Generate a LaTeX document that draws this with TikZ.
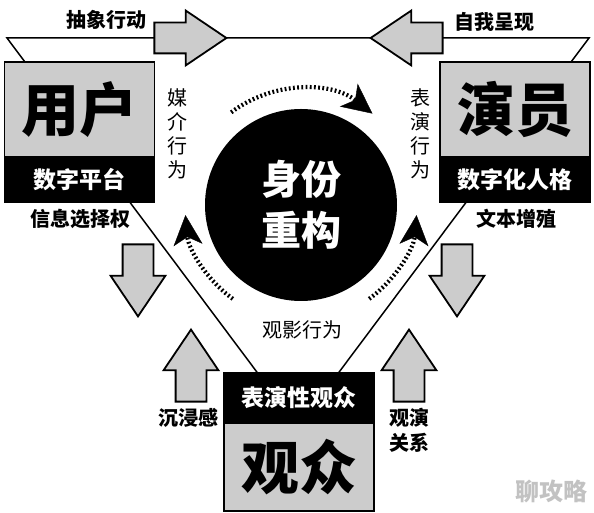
\documentclass[tikz,border=0pt]{standalone}
\usepackage{fontspec}
\usepackage{xcolor}
\usepackage{tikz}
\usetikzlibrary{positioning,shapes.arrows,arrows.meta}
\newfontfamily\cjk{Noto Sans CJK SC}
\definecolor{boxgray}{gray}{0.8}
\definecolor{markgray}{gray}{0.76}
\tikzset{
  triline/.style  = {line width=1.5pt},
  rolename/.style = {shape=rectangle, draw, line width=1.8pt, fill=boxgray,
                     minimum width=150pt, minimum height=95pt,
                     inner sep=0pt, outer sep=0pt,
                     font=\cjk\bfseries\fontsize{58}{60}\selectfont},
  roletag/.style  = {shape=rectangle, draw, line width=1.8pt, fill=black,
                     text=white, minimum width=150pt, minimum height=45pt,
                     inner sep=0pt, outer sep=0pt,
                     font=\cjk\bfseries\fontsize{23}{26}\selectfont},
  core/.style     = {circle, fill=black, text=white, minimum size=192pt,
                     inner sep=0pt, align=center,
                     font=\cjk\bfseries\fontsize{40}{51}\selectfont},
  keyword/.style  = {inner sep=0pt, align=center,
                     font=\cjk\bfseries\fontsize{20}{25}\selectfont},
  act/.style      = {inner sep=0pt, align=center,
                     font=\cjk\fontsize{20}{24}\selectfont},
  bigarrow/.style = {single arrow, draw, line width=1.8pt, fill=boxgray,
                     inner xsep=0pt, inner ysep=14.5pt,
                     single arrow head extend=12pt,
                     single arrow tip angle=68,
                     minimum height=72pt, anchor=tip},
  loopline/.style = {line width=4.2pt, dash pattern=on 1.8pt off 2.4pt,
                     -{Stealth[length=30pt, width=29pt, inset=8pt, line width=0.4pt]}}
}
\begin{document}
\begin{tikzpicture}
  [
    x = 1pt,
    y = 1pt
  ]
  \useasboundingbox (0,0) rectangle (594,513);
  \coordinate (tl)   at (7,475);
  \coordinate (tr)   at (589,475);
  \coordinate (apex) at (298,86);
  \draw [triline] (tl) -- (tr) -- (apex) -- cycle;

  \node [rolename] (user)  at (79.5,403.5) {用户};
  \node [roletag, below=0pt of user]  (platform) {数字平台};
  \node [rolename] (actor) at (515,403.5) {演员};
  \node [roletag, below=0pt of actor] (persona)  {数字化人格};
  \node [roletag, minimum height=50pt] (perform) at (299,115) {表演性观众};
  \node [rolename, minimum height=88pt, below=0pt of perform] (audience) {观众};

  \node [core] (core) at (301,308) {身份\\重构};
  \draw [loopline] ([shift={(127:116pt)}]core.center)
    arc [start angle=127, end angle=52, radius=116pt];
  \draw [loopline] ([shift={(234:116pt)}]core.center)
    arc [start angle=234, end angle=185, radius=116pt];
  \draw [loopline] ([shift={(-54:116pt)}]core.center)
    arc [start angle=-54, end angle=-5, radius=116pt];

  \node [bigarrow]            (abstract) at (228,475) {};
  \node [bigarrow, rotate=180] (present)  at (369,475) {};
  \node [bigarrow, rotate=-90] (choose)   at (138,195) {};
  \node [bigarrow, rotate=90]  (immerse)  at (191,185) {};
  \node [bigarrow, rotate=-90] (multiply) at (457,195) {};
  \node [bigarrow, rotate=90]  (relate)   at (409,185) {};

  \node [keyword] (abstractlbl) at (106,493) {抽象行动};
  \node [keyword] (presentlbl)  at (494,491) {自我呈现};
  \node [act]     (medialbl)    at (177,379.5) {媒\\介\\行\\为};
  \node [act]     (showlbl)     at (420,379.5) {表\\演\\行\\为};
  \node [act]     (viewlbl)     at (302,183) {观影行为};
  \node [keyword] (chooselbl)   at (80,294) {信息选择权};
  \node [keyword] (multiplylbl) at (516,294) {文本增殖};
  \node [keyword] (immerselbl)  at (188,95) {沉浸感};
  \node [keyword] (relatelbl)   at (409,83) {观演\\关系};
  \node [keyword, text=markgray, font=\cjk\bfseries\fontsize{24}{26}\selectfont]
    (watermark) at (551,22) {聊攻略};
\end{tikzpicture}
\end{document}
